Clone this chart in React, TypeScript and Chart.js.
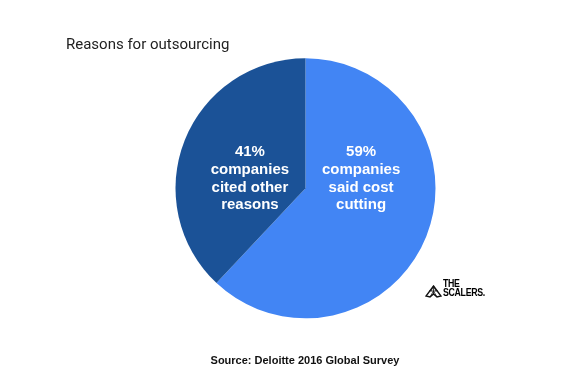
import React, { useEffect, useRef } from "react";
import { Chart, registerables } from "chart.js";

Chart.register(...registerables);

const categories = ["Cost cutting", "Other reasons"];
const sliceValues = [62, 38];
const percentLabels = ["59%", "41%"];
const labelLines = [
  ["companies", "said cost", "cutting"],
  ["companies", "cited other", "reasons"],
];
const sliceColors = ["#4285F4", "#1B5297"];

const sliceLabelPlugin = {
  id: "sliceLabels",
  afterDatasetsDraw(chart: any) {
    const meta = chart.getDatasetMeta(0);
    const ctx = chart.ctx;
    ctx.save();
    ctx.fillStyle = "#ffffff";
    ctx.font = "bold 15px 'Liberation Sans', Arial, sans-serif";
    ctx.textAlign = "center";
    ctx.textBaseline = "middle";
    meta.data.forEach((arc: any, i: number) => {
      const p = arc.getProps(["x", "y", "startAngle", "endAngle", "outerRadius"], true);
      const mid = (p.startAngle + p.endAngle) / 2;
      const cx = p.x + Math.cos(mid) * p.outerRadius * 0.46;
      const lines = [percentLabels[i], ...labelLines[i]];
      const lh = 17.7;
      const cy = p.y - 9.5;
      const top = cy - ((lines.length - 1) * lh) / 2;
      lines.forEach((t, j) => ctx.fillText(t, cx, top + j * lh));
    });
    ctx.restore();
  },
};

export default function App() {
  const ref = useRef<HTMLCanvasElement>(null);
  useEffect(() => {
    if (!ref.current) return;
    const chart = new Chart(ref.current, {
      type: "pie",
      data: {
        labels: categories,
        datasets: [
          {
            data: sliceValues,
            backgroundColor: sliceColors,
            borderWidth: 0,
          },
        ],
      },
      options: {
        responsive: false,
        animation: false,
        layout: { padding: { top: 58.3, bottom: 65.7, left: 175.5, right: 150.5 } },
        plugins: {
          legend: { display: false },
          tooltip: { enabled: false },
          title: { display: false },
        },
      },
      plugins: [sliceLabelPlugin],
    });
    return () => chart.destroy();
  }, []);

  return (
    <div
      style={{
        position: "absolute",
        left: 0,
        top: 0,
        width: 586,
        height: 384,
        background: "#ffffff",
        overflow: "hidden",
      }}
    >
      <canvas ref={ref} width={586} height={384} style={{ position: "absolute", left: 0, top: 0 }} />
      <div
        style={{
          position: "absolute",
          left: 66,
          top: 37,
          fontFamily: "Roboto, sans-serif",
          fontSize: 15,
          lineHeight: "15px",
          color: "#222222",
          whiteSpace: "nowrap",
        }}
      >
        Reasons for outsourcing
      </div>
      <div
        style={{
          position: "absolute",
          left: 0,
          width: 610,
          top: 355,
          textAlign: "center",
          fontFamily: "'Liberation Sans', Arial, sans-serif",
          fontWeight: "bold",
          fontSize: 11,
          lineHeight: "11px",
          color: "#111111",
          whiteSpace: "nowrap",
        }}
      >
        Source: Deloitte 2016 Global Survey
      </div>
      <svg
        width="17"
        height="13"
        viewBox="0 0 17 13"
        style={{ position: "absolute", left: 425, top: 285 }}
      >
        <path d="M8.5 1 L16 11 L12 12 L8.5 9 L5 12 L1 11 Z" fill="none" stroke="#111" strokeWidth="1.4" />
        <path d="M4 6 L13 6 M8.5 1 L8.5 9 M5 12 L8.5 6 L12 12 M6 6 L8.5 1 L11 6" fill="none" stroke="#111" strokeWidth="0.8" />
      </svg>
      <div
        style={{
          position: "absolute",
          left: 443,
          top: 279,
          fontFamily: "'Liberation Sans', Arial, sans-serif",
          fontWeight: 900,
          fontSize: 11,
          lineHeight: "8.5px",
          color: "#000",
          letterSpacing: -0.4,
          whiteSpace: "nowrap",
          transform: "scaleX(0.8)",
          transformOrigin: "left top",
        }}
      >
        <div>THE</div>
        <div>SCALERS.</div>
      </div>
    </div>
  );
}
